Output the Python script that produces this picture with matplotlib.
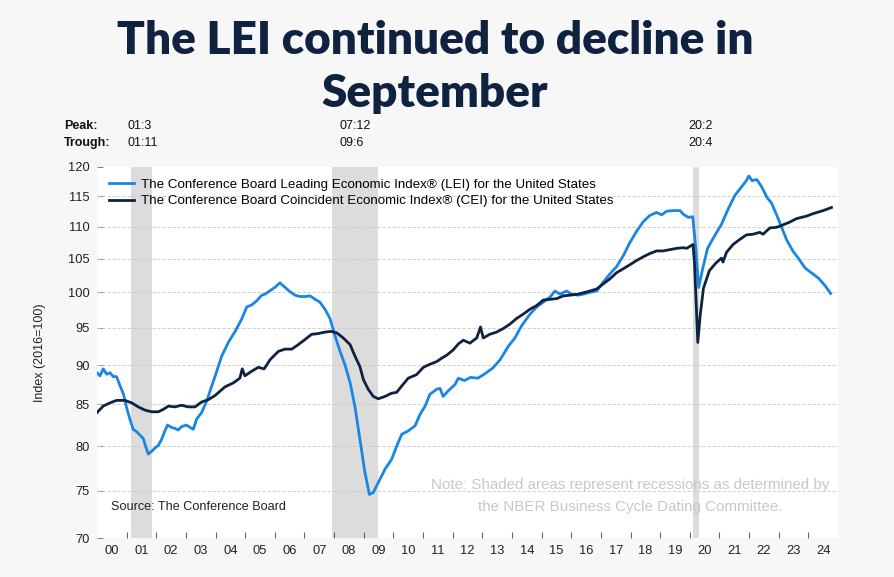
import matplotlib
matplotlib.use("Agg")
import matplotlib.pyplot as plt
import matplotlib.ticker as mticker

plt.rcParams['font.family'] = ['Liberation Sans', 'DejaVu Sans']

# values (decimal year, index 2016=100)
lei_t = [2000.00, 2000.10, 2000.21, 2000.33, 2000.44, 2000.55, 2000.66, 2000.78, 2000.89,
         2001.00, 2001.11, 2001.22, 2001.34, 2001.45, 2001.56, 2001.64, 2001.73, 2001.84,
         2001.96, 2002.07, 2002.18, 2002.29, 2002.38, 2002.52, 2002.63, 2002.74, 2002.85,
         2003.02, 2003.19, 2003.25, 2003.36, 2003.53, 2003.70, 2003.87, 2003.98, 2004.20,
         2004.43, 2004.66, 2004.88, 2005.05, 2005.22, 2005.39, 2005.56, 2005.67, 2005.84,
         2006.01, 2006.17, 2006.34, 2006.51, 2006.68, 2006.85, 2007.02, 2007.19, 2007.36,
         2007.52, 2007.69, 2007.86, 2008.03, 2008.20, 2008.37, 2008.54, 2008.70, 2008.87,
         2009.04, 2009.19, 2009.32, 2009.49, 2009.72, 2009.94, 2010.11, 2010.28, 2010.50,
         2010.73, 2010.90, 2011.07, 2011.23, 2011.46, 2011.57, 2011.68, 2011.85, 2012.08,
         2012.19, 2012.40, 2012.60, 2012.85, 2013.10, 2013.35, 2013.60, 2013.88, 2014.10,
         2014.33, 2014.61, 2014.83, 2015.06, 2015.28, 2015.45, 2015.62, 2015.84, 2016.01,
         2016.24, 2016.41, 2016.63, 2016.86, 2017.08, 2017.31, 2017.53, 2017.76, 2017.98,
         2018.21, 2018.43, 2018.65, 2018.88, 2019.05, 2019.22, 2019.45, 2019.67, 2019.78,
         2019.95, 2020.10, 2020.20, 2020.30, 2020.44, 2020.60, 2020.83, 2021.07, 2021.29,
         2021.52, 2021.74, 2021.91, 2021.99, 2022.10, 2022.26, 2022.43, 2022.60, 2022.76,
         2022.93, 2023.10, 2023.27, 2023.49, 2023.66, 2023.89, 2024.11, 2024.34, 2024.56,
         2024.75]
lei_v = [89.0, 88.6, 89.5, 88.8, 89.0, 88.5, 88.5, 87.3, 86.3,
         84.6, 83.2, 82.0, 81.7, 81.3, 80.9, 80.0, 79.1, 79.4,
         79.8, 80.1, 80.8, 81.8, 82.5, 82.2, 82.1, 81.9, 82.3,
         82.5, 82.1, 82.0, 83.2, 84.0, 85.4, 87.3, 88.5, 91.1,
         93.0, 94.5, 96.2, 97.9, 98.2, 98.8, 99.6, 99.75, 100.25,
         100.75, 101.4, 100.75, 100.1, 99.6, 99.4, 99.4, 99.5, 99.0,
         98.6, 97.6, 96.3, 93.9, 91.8, 90.0, 87.7, 84.8, 80.8,
         77.0, 74.6, 74.8, 75.9, 77.4, 78.5, 80.0, 81.4, 81.8,
         82.4, 83.8, 84.8, 86.25, 86.9, 87.0, 86.0, 86.7, 87.5,
         88.3, 88.0, 88.4, 88.3, 88.9, 89.6, 90.7, 92.5, 93.6,
         95.3, 96.9, 97.9, 98.6, 99.3, 100.2, 99.75, 100.2, 99.75,
         99.6, 99.75, 100.0, 100.2, 101.5, 102.75, 103.8, 105.5, 107.5,
         109.3, 110.8, 111.8, 112.3, 111.9, 112.5, 112.6, 112.6, 112.0,
         111.5, 111.6, 106.6, 100.7, 103.6, 106.6, 108.5, 110.4, 112.8,
         115.1, 116.5, 117.6, 118.4, 117.6, 117.8, 116.5, 114.8, 113.8,
         111.9, 109.9, 107.9, 106.1, 105.1, 103.6, 102.85, 102.1, 101.0,
         99.85]

cei_t = [2000.00, 2000.21, 2000.44, 2000.66, 2000.94, 2001.17, 2001.39, 2001.62, 2001.84,
         2002.07, 2002.24, 2002.41, 2002.63, 2002.85, 2003.08, 2003.31, 2003.53, 2003.76,
         2003.98, 2004.32, 2004.60, 2004.82, 2004.90, 2004.99, 2005.22, 2005.44, 2005.64,
         2005.84, 2006.12, 2006.34, 2006.57, 2006.79, 2007.02, 2007.24, 2007.46, 2007.69,
         2007.90, 2008.09, 2008.31, 2008.54, 2008.70, 2008.87, 2008.99, 2009.15, 2009.32,
         2009.49, 2009.72, 2009.94, 2010.11, 2010.28, 2010.50, 2010.78, 2011.01, 2011.23,
         2011.46, 2011.63, 2011.80, 2012.02, 2012.19, 2012.36, 2012.58, 2012.81, 2012.94,
         2013.03, 2013.25, 2013.48, 2013.71, 2013.93, 2014.16, 2014.38, 2014.61, 2014.83,
         2015.06, 2015.28, 2015.51, 2015.73, 2015.96, 2016.24, 2016.63, 2016.86, 2017.08,
         2017.31, 2017.53, 2017.76, 2017.98, 2018.21, 2018.43, 2018.65, 2018.88, 2019.10,
         2019.33, 2019.56, 2019.78, 2019.90, 2020.00, 2020.11, 2020.16, 2020.27, 2020.35,
         2020.46, 2020.66, 2020.89, 2021.07, 2021.12, 2021.24, 2021.46, 2021.69, 2021.91,
         2022.13, 2022.36, 2022.47, 2022.70, 2022.93, 2023.15, 2023.38, 2023.60, 2023.94,
         2024.16, 2024.50, 2024.78]
cei_v = [84.0, 84.8, 85.2, 85.5, 85.5, 85.2, 84.7, 84.3, 84.1,
         84.1, 84.4, 84.8, 84.7, 84.9, 84.7, 84.7, 85.3, 85.6,
         86.1, 87.2, 87.7, 88.3, 89.5, 88.6, 89.2, 89.7, 89.5,
         90.7, 91.8, 92.1, 92.1, 92.7, 93.4, 94.1, 94.2, 94.4,
         94.5, 94.3, 93.6, 92.7, 91.2, 89.8, 88.1, 86.9, 86.0,
         85.7, 86.0, 86.4, 86.5, 87.3, 88.3, 88.75, 89.7, 90.1,
         90.45, 90.9, 91.3, 92.0, 92.8, 93.3, 92.9, 93.6, 95.1,
         93.6, 94.1, 94.4, 94.9, 95.5, 96.3, 96.9, 97.6, 98.1,
         98.9, 99.0, 99.1, 99.5, 99.6, 99.75, 100.2, 100.5, 101.25,
         102.0, 102.9, 103.5, 104.1, 104.75, 105.3, 105.8, 106.2, 106.2,
         106.4, 106.6, 106.7, 106.6, 106.9, 107.2, 104.2, 93.0, 96.7,
         100.6, 103.2, 104.4, 105.1, 104.5, 106.0, 107.2, 108.0, 108.7,
         108.8, 109.1, 108.8, 109.8, 109.9, 110.3, 110.75, 111.3, 111.7,
         112.1, 112.6, 113.1]

recessions = [(2001.15, 2001.85), (2007.92, 2009.47), (2020.1, 2020.3)]
peaks = ["01:3", "07:12", "20:2"]
troughs = ["01:11", "09:6", "20:4"]
yticks = [70, 75, 80, 85, 90, 95, 100, 105, 110, 115, 120]
years = list(range(2000, 2025))

navy = '#0f2340'
blue = '#1a86e3'

fig = plt.figure(figsize=(8.94, 5.77), dpi=100, facecolor='#f7f7f7')
ax = fig.add_axes([97 / 894, 1 - 538.3 / 577, 741 / 894, 371.6 / 577])
ax.set_facecolor('white')

for a, b in recessions:
    ax.axvspan(a, b, color='#dcdcdc', lw=0, zorder=1)

ax.plot(lei_t, lei_v, color=blue, lw=2.0, zorder=3,
        label='The Conference Board Leading Economic Index® (LEI) for the United States')
ax.plot(cei_t, cei_v, color=navy, lw=2.0, zorder=4,
        label='The Conference Board Coincident Economic Index® (CEI) for the United States')

ax.set_yscale('log')
ax.set_ylim(70, 120)
ax.set_xlim(2000, 2025)
ax.yaxis.set_major_locator(mticker.FixedLocator(yticks))
ax.yaxis.set_major_formatter(mticker.FixedFormatter([str(v) for v in yticks]))
ax.yaxis.set_minor_locator(mticker.NullLocator())
ax.tick_params(axis='y', direction='in', length=4, width=0.8, color='#888888',
               labelsize=9.3, labelcolor='#222222', pad=5)

ax.xaxis.set_major_locator(mticker.FixedLocator(years[1:]))
ax.xaxis.set_major_formatter(mticker.NullFormatter())
ax.xaxis.set_minor_locator(mticker.FixedLocator([y + 0.5 for y in years]))
ax.xaxis.set_minor_formatter(mticker.FixedFormatter(['%02d' % (y % 100) for y in years]))
ax.tick_params(axis='x', which='major', direction='in', length=4.5, width=0.8, color='#666666')
ax.tick_params(axis='x', which='minor', length=0, labelsize=9.3, labelcolor='#222222', pad=5)

for y in yticks[1:-1]:
    ax.axhline(y, color='#c8c8c8', lw=0.6, ls=(0, (4, 2)), zorder=2)
for s in ax.spines.values():
    s.set_visible(False)

ax.set_ylabel('Index (2016=100)', fontsize=9, color='#222222')
ax.yaxis.set_label_coords(-0.069, 0.5)

ax.legend(loc='upper left', frameon=False, fontsize=9.6, handlelength=1.9,
          handletextpad=0.5, labelspacing=0.3, borderaxespad=0.5,
          bbox_to_anchor=(0.0, 1.0))

title_font = ['Lato', 'DejaVu Sans']
fig.text(435 / 894, 1 - 40 / 577, 'The LEI continued to decline in', ha='center', va='center',
         fontsize=33, fontweight='heavy', color=navy, family=title_font)
fig.text(435 / 894, 1 - 94 / 577, 'September', ha='center', va='center',
         fontsize=33, fontweight='heavy', color=navy, family=title_font)

fig.text(64 / 894, 1 - 126 / 577, 'Peak:', fontsize=9, fontweight='bold', va='center', color='#111111')
fig.text(64 / 894, 1 - 143 / 577, 'Trough:', fontsize=9, fontweight='bold', va='center', color='#111111')
for xp, pk, tr in zip([128, 340, 688], peaks, troughs):
    fig.text(xp / 894, 1 - 126 / 577, pk, fontsize=9, va='center', color='#111111')
    fig.text(xp / 894, 1 - 143 / 577, tr, fontsize=9, va='center', color='#111111')

fig.text(111 / 894, 1 - 507 / 577, 'Source: The Conference Board', fontsize=9.1,
         va='center', color='#222222')
fig.text(630 / 894, 1 - 485 / 577, 'Note: Shaded areas represent recessions as determined by',
         fontsize=10.9, ha='center', va='center', color='#c8c8c8')
fig.text(630 / 894, 1 - 507 / 577, 'the NBER Business Cycle Dating Committee.',
         fontsize=10.9, ha='center', va='center', color='#c8c8c8')

fig.savefig('out.png', dpi=100, facecolor=fig.get_facecolor())
